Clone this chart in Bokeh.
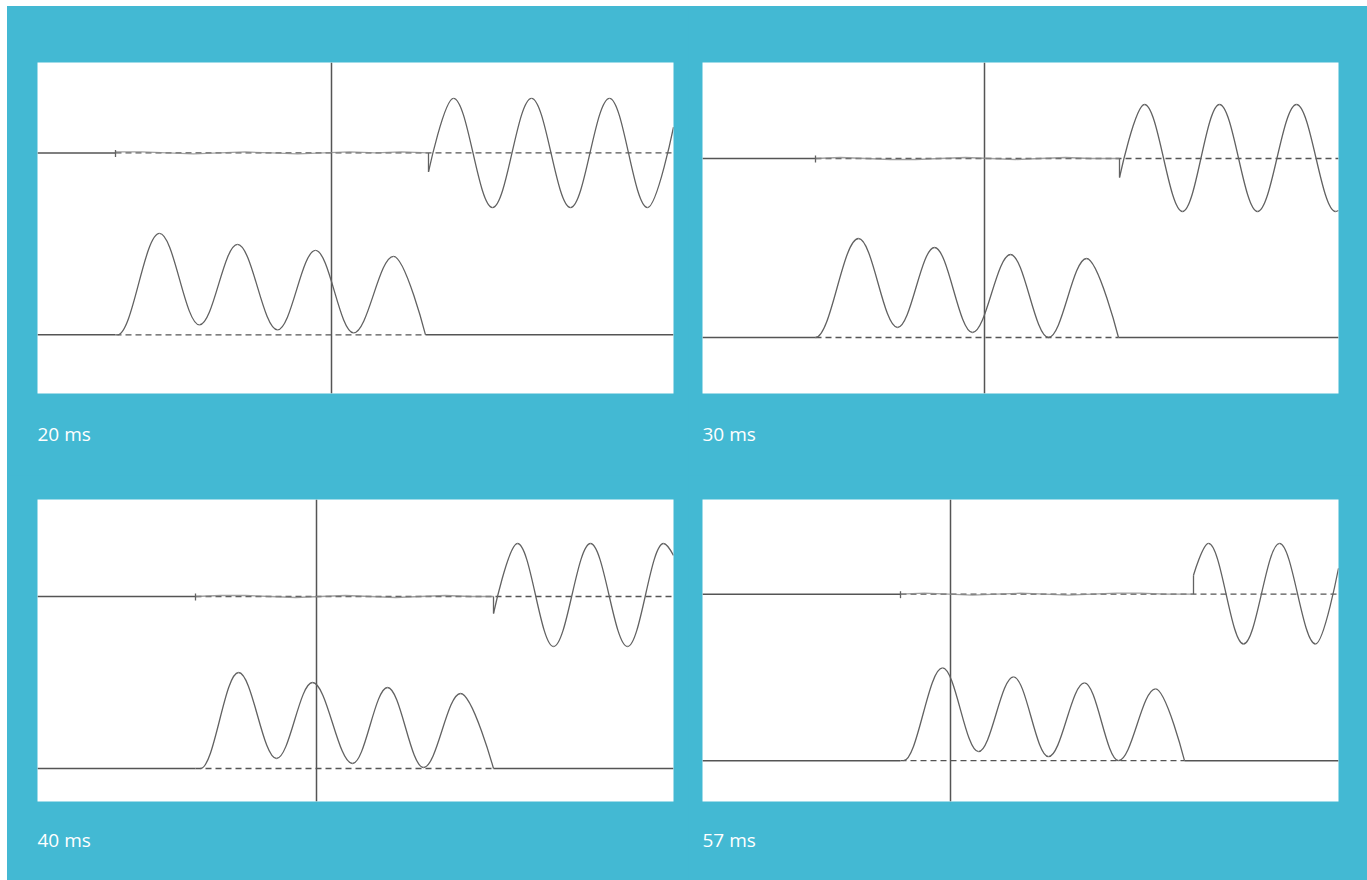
from bokeh.plotting import figure
from bokeh.layouts import column, row
from bokeh.models import Range1d, Title
from bokeh.embed import file_html
from bokeh.resources import INLINE

TEAL = "#43B9D3"
TRACE = "#626262"
AXIS = "#555555"

# ---- data (units: px-like readings inside each panel, y measured up from panel bottom) ----
labels = ["20 ms", "30 ms", "40 ms", "57 ms"]
panel_h = [333, 331, 302, 303]
top_base = [242, 235, 205, 208]
bot_base = [59, 56, 33, 41]
cursor_x = [294, 282, 279, 248]
noise_start = [78, 113, 158, 198]

# lower trace (bumps), knots at start, peaks/troughs, end
bot_x_20 = [80, 122, 162, 200, 240, 278, 316, 356, 388]
bot_y_20 = [59, 161, 69, 150, 64, 144, 61, 138, 59]
bot_x_30 = [113, 156, 195, 232, 270, 308, 346, 384, 416]
bot_y_30 = [56, 155, 66, 146, 61, 139, 56, 135, 56]
bot_x_40 = [163, 201, 239, 275, 315, 350, 386, 423, 456]
bot_y_40 = [33, 129, 43, 119, 38, 114, 34, 108, 33]
bot_x_57 = [201, 240, 276, 311, 346, 382, 416, 453, 482]
bot_y_57 = [41, 134, 50, 125, 45, 119, 41, 113, 41]

# upper trace (oscillation), first knot = tip of onset tick, then peaks/troughs, last = right edge
top_x_20 = [391, 416, 455, 494, 533, 572, 610, 636]
top_y_20 = [223, 297, 187, 297, 187, 297, 187, 268]
top_x_30 = [417, 442, 480, 517, 555, 594, 633, 636]
top_y_30 = [216, 289, 182, 289, 182, 289, 182, 183]
top_x_40 = [456, 480, 516, 553, 590, 626, 636]
top_y_40 = [188, 258, 155, 258, 155, 258, 246]
top_x_57 = [491, 506, 541, 577, 613, 636]
top_y_57 = [227, 259, 158, 259, 158, 234]

# small wobble of the upper trace before onset
noise_x_20 = [78, 104, 130, 156, 182, 208, 234, 260, 286, 312, 338, 364, 391]
noise_d_20 = [1, 1, 0, -1, 0, 1, 0, -1, 0, 1, 0, 1, 0]
noise_x_30 = [113, 138, 163, 188, 213, 238, 263, 288, 313, 338, 363, 388, 417]
noise_d_30 = [0, 1, 0, -1, -1, 0, 1, 0, -1, 0, 1, 0, 0]
noise_x_40 = [158, 183, 208, 233, 258, 283, 308, 333, 358, 383, 408, 433, 456]
noise_d_40 = [0, 1, 1, 0, -1, 0, 1, 0, -1, 0, 1, 0, 0]
noise_x_57 = [198, 222, 246, 270, 294, 318, 342, 366, 390, 414, 438, 462, 491]
noise_d_57 = [0, 1, 0, -1, 0, 1, 0, -1, 0, 1, 1, 0, 0]

bot_x = [bot_x_20, bot_x_30, bot_x_40, bot_x_57]
bot_y = [bot_y_20, bot_y_30, bot_y_40, bot_y_57]
top_x = [top_x_20, top_x_30, top_x_40, top_x_57]
top_y = [top_y_20, top_y_30, top_y_40, top_y_57]
noise_x = [noise_x_20, noise_x_30, noise_x_40, noise_x_57]
noise_d = [noise_d_20, noise_d_30, noise_d_40, noise_d_57]

PANEL_W = 636
K = 0.364  # bezier handle fraction giving a sine-like half cycle


def smooth(p, xs, ys, start_free, end_free):
    x0, y0, x1, y1, cx0, cy0, cx1, cy1 = [], [], [], [], [], [], [], []
    n = len(xs)
    for i in range(n - 1):
        xa, ya, xb, yb = xs[i], ys[i], xs[i + 1], ys[i + 1]
        dx = xb - xa
        x0.append(xa); y0.append(ya); x1.append(xb); y1.append(yb)
        if i == 0 and start_free:
            cx0.append(xa); cy0.append(ya)
        else:
            cx0.append(xa + K * dx); cy0.append(ya)
        if i == n - 2 and end_free:
            cx1.append(xb); cy1.append(yb)
        else:
            cx1.append(xb - K * dx); cy1.append(yb)
    p.bezier(x0=x0, y0=y0, x1=x1, y1=y1, cx0=cx0, cy0=cy0, cx1=cx1, cy1=cy1,
             line_color=TRACE, line_width=1.3)


def make_panel(i, width, height, bl, br, bt, bb, standoff):
    h = panel_h[i]
    p = figure(width=width, height=height, x_range=Range1d(0, PANEL_W), y_range=Range1d(0, h),
               output_backend="svg", toolbar_location=None,
               x_axis_location=None, y_axis_location=None,
               min_border_left=bl, min_border_right=br, min_border_top=bt, min_border_bottom=bb,
               styles={"background-color": TEAL})
    p.grid.visible = False
    p.outline_line_color = None
    p.background_fill_color = "white"
    p.border_fill_color = TEAL

    tb, bb_, ns = top_base[i], bot_base[i], noise_start[i]
    # baselines: solid before the traces, dashed under them
    p.line([0, ns], [tb, tb], line_color=AXIS, line_width=1.5)
    p.line([ns, PANEL_W], [tb, tb], line_color=AXIS, line_width=1.3, line_dash="6 4")
    bend = bot_x[i][-1]
    p.line([0, ns], [bb_, bb_], line_color=AXIS, line_width=1.5)
    p.line([ns, bend], [bb_, bb_], line_color=AXIS, line_width=1.3, line_dash="6 4")
    p.line([bend, PANEL_W], [bb_, bb_], line_color=AXIS, line_width=1.5)
    # cursor line
    p.line([cursor_x[i], cursor_x[i]], [0, h], line_color=AXIS, line_width=1.5)

    # pre-onset wobble of upper trace
    p.line(noise_x[i], [tb + d for d in noise_d[i]], line_color="#8a8a8a", line_width=1.3, line_alpha=0.8)
    p.line([ns, ns], [tb - 4, tb + 3], line_color=TRACE, line_width=1.3)

    # onset tick + oscillation
    tx, ty = top_x[i], top_y[i]
    p.line([tx[0], tx[0]], [tb, ty[0]], line_color=TRACE, line_width=1.3)
    smooth(p, tx, ty, True, True)

    # lower trace bumps
    smooth(p, bot_x[i], bot_y[i], False, True)

    p.add_layout(Title(text=labels[i], align="left", text_color="white", text_font="Open Sans",
                       text_font_size="19px", text_font_style="normal", standoff=standoff), "below")
    return p


H1, H2 = 469, 405
p1 = make_panel(0, 681, H1, 30, 15, 56, H1 - 56 - panel_h[0], 51)
p2 = make_panel(1, 679, H1, 14, 29, 56, H1 - 56 - panel_h[1], 51)
p3 = make_panel(2, 681, H2, 30, 15, 24, H2 - 24 - panel_h[2], 46)
p4 = make_panel(3, 679, H2, 14, 29, 24, H2 - 24 - panel_h[3], 47)

bg = {"background-color": TEAL}
layout = column(row(p1, p2, spacing=0, styles=bg), row(p3, p4, spacing=0, styles=bg),
                spacing=0, styles=bg, margin=(6, 0, 0, 7))

open("out.html", "w").write(file_html(layout, INLINE))
